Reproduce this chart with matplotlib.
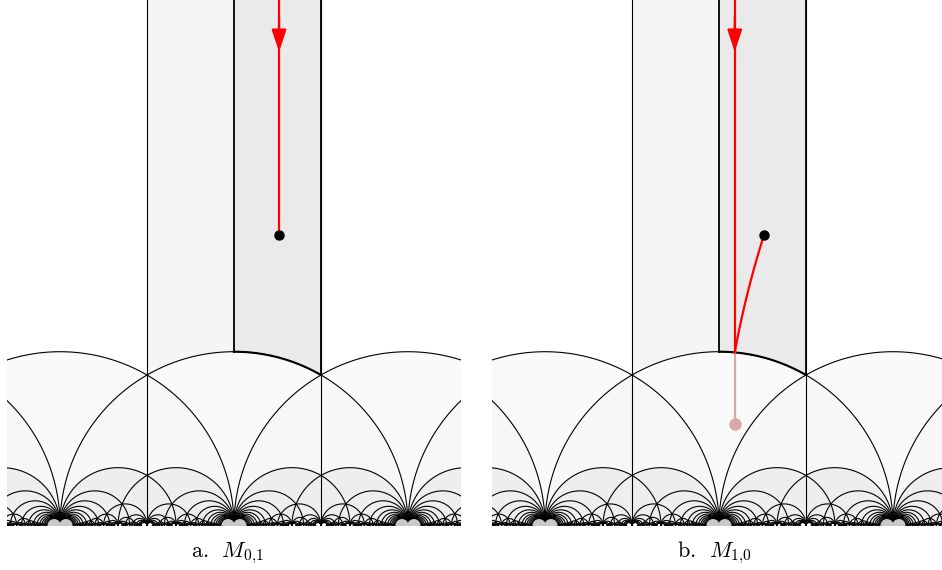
import numpy as np
import matplotlib.pyplot as plt
from math import gcd
from matplotlib.collections import LineCollection, PolyCollection

plt.rcParams['mathtext.fontset'] = 'cm'

# view window (upper half plane)
x_lim = (-1.305, 1.305)
y_top = 3.02

# the two marked points
end_point = (0.259, 1.672)      # black dot (both panels)
pink_point = (0.0905, 0.584)    # point before reflection (panel b)
arrow_tip_y = 2.724

panel_labels = [r'$\mathrm{a.}\ \, M_{0{,}1}$', r'$\mathrm{b.}\ \, M_{1{,}0}$']
label_x = [228, 714]

DEN_MAX = 30       # largest denominator of the drawn geodesics
MIN_RAD = 0.004
TILE_LIMIT = 220   # depth of the shaded tiles
rho = 0.5 + 1j * np.sqrt(3) / 2

# boundary of the standard fundamental domain, sampled
theta = np.linspace(2 * np.pi / 3, np.pi / 3, 60)
ys = np.geomspace(np.sqrt(3) / 2, 400, 60)
F_boundary = np.concatenate([np.exp(1j * theta), 0.5 + 1j * ys, -0.5 + 1j * ys[::-1]])


def tile_polys():
    polys, shades = [], []
    for c in range(1, 18):
        for a in range(-3 * c, 3 * c + 1):
            if gcd(a, c) != 1:
                continue
            d0 = pow(a, -1, c) if c > 1 else 0
            for k in range(-20, 21):
                d = d0 + k * c
                if abs(c * rho + d) ** 2 > TILE_LIMIT:
                    continue
                b = (a * d - 1) // c
                w = (a * F_boundary + b) / (c * F_boundary + d)
                if w.real.max() < x_lim[0] - 0.05 or w.real.min() > x_lim[1] + 0.05:
                    continue
                h = w.imag.max()
                g = 250 - 12 * np.clip((1 - h) / 0.6, 0, 1)
                polys.append(np.column_stack([w.real, w.imag]))
                shades.append((g / 255,) * 3)
    return polys, shades


def geodesic_segs():
    segs = []
    for q in range(1, DEN_MAX + 1):
        for p in range(-3 * q, 3 * q + 1):
            if gcd(p, q) != 1:
                continue
            for s in range(1, DEN_MAX + 1):
                if 1 / (q * s) < MIN_RAD:
                    break
                for sign in (2, -2):
                    num = p * s - sign
                    if num % q:
                        continue
                    r = num // q
                    if gcd(r, s) != 1:
                        continue
                    x1, x2 = p / q, r / s
                    if x1 >= x2:
                        continue
                    cx, rad = (x1 + x2) / 2, (x2 - x1) / 2
                    if cx + rad < x_lim[0] - 0.05 or cx - rad > x_lim[1] + 0.05:
                        continue
                    n = max(10, int(400 * rad))
                    t = np.linspace(0, np.pi, n)
                    segs.append(np.column_stack([cx + rad * np.cos(t), rad * np.sin(t)]))
    for x in (-1.5, -0.5, 0.5, 1.5):
        segs.append(np.array([[x, 0], [x, y_top + 1]]))
    return segs


polys, shades = tile_polys()
segs = geodesic_segs()

fig = plt.figure(figsize=(9.42, 5.70), dpi=100)
axes = [fig.add_axes([7 / 942, 44 / 570, 454 / 942, 526 / 570]),
        fig.add_axes([492 / 942, 44 / 570, 454 / 942, 526 / 570])]

for i, ax in enumerate(axes):
    ax.add_collection(PolyCollection(polys, facecolors=shades, edgecolors='none', zorder=1))

    # fundamental domain: left half light, right half highlighted
    th_l = np.linspace(2 * np.pi / 3, np.pi / 2, 40)
    th_r = np.linspace(np.pi / 2, np.pi / 3, 40)
    left = np.column_stack([np.r_[np.cos(th_l), 0, -0.5], np.r_[np.sin(th_l), y_top + 1, y_top + 1]])
    right = np.column_stack([np.r_[np.cos(th_r), 0.5, 0], np.r_[np.sin(th_r), y_top + 1, y_top + 1]])
    ax.fill(left[:, 0], left[:, 1], color='#f5f5f5', lw=0, zorder=1)
    ax.fill(right[:, 0], right[:, 1], color='#eaeaea', lw=0, zorder=1)

    ax.add_collection(LineCollection(segs, colors='black', linewidths=0.8, zorder=2))
    ax.plot(np.cos(th_r), np.sin(th_r), color='black', lw=1.5, zorder=3)
    ax.plot([0, 0], [1, y_top + 1], color='black', lw=1.3, zorder=3)
    ax.plot([0.5, 0.5], [np.sqrt(3) / 2, y_top + 1], color='black', lw=1.3, zorder=3)

    # grey humps left at the integer cusps
    for n in (-1, 0, 1):
        for sgn in (-1, 1):
            ax.add_patch(plt.Circle((n + sgn * 0.034, 0), 0.034, color='#c8c8c8', zorder=4))

    ax.set_xlim(*x_lim)
    ax.set_ylim(0, y_top)
    ax.set_aspect('equal')
    ax.axis('off')

arrow_props = dict(arrowstyle='-|>,head_length=0.75,head_width=0.25', color='red',
                   lw=1.6, shrinkA=0, shrinkB=0, mutation_scale=18)

# panel a: straight path
ax = axes[0]
ex, ey = end_point
ax.plot([ex, ex], [y_top + 1, ey], color='red', lw=1.6, zorder=5)
ax.annotate('', xy=(ex, arrow_tip_y), xytext=(ex, arrow_tip_y + 0.2),
            arrowprops=arrow_props, zorder=6)
ax.plot(ex, ey, 'o', color='black', ms=6.5, zorder=7)

# panel b: path hits the arc and is reflected
ax = axes[1]
px, py = pink_point
y0 = np.sqrt(1 - px ** 2)
ax.plot([px, px], [y_top + 1, y0], color='red', lw=1.6, zorder=5)
ax.annotate('', xy=(px, arrow_tip_y), xytext=(px, arrow_tip_y + 0.2),
            arrowprops=arrow_props, zorder=6)
ax.plot([px, px], [y0, py], color=(0.85, 0.66, 0.66), lw=1.6, zorder=5)
ax.plot(px, py, 'o', color=(0.85, 0.66, 0.66), ms=8, zorder=6)
t = np.linspace(y0, py, 80)
z = px + 1j * t
w = z / np.abs(z) ** 2
ax.plot(w.real, w.imag, color='red', lw=1.6, zorder=5)
ax.plot(w.real[-1], w.imag[-1], 'o', color='black', ms=6.5, zorder=7)

for lx, lab in zip(label_x, panel_labels):
    fig.text(lx / 942, 1 - 553 / 570, lab, ha='center', va='center', fontsize=16)

fig.savefig('out.png', dpi=100)
